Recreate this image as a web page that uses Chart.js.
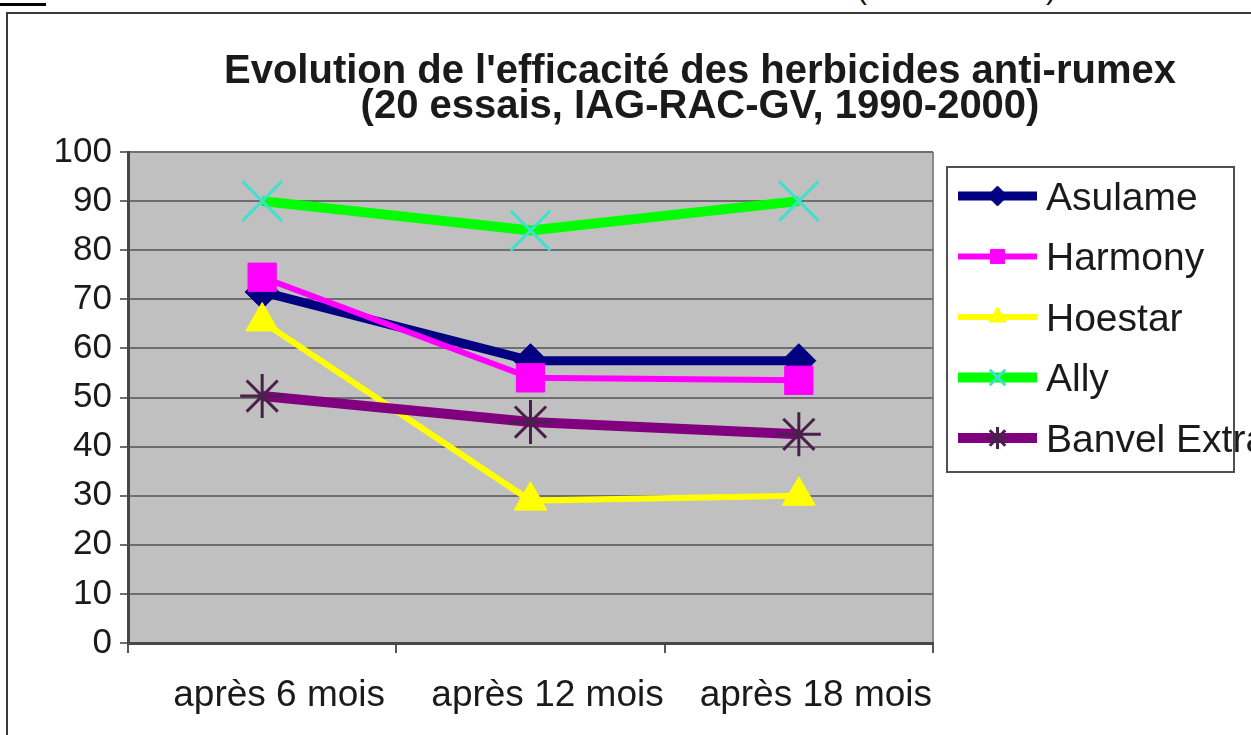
<!DOCTYPE html>
<html lang="fr">
<head>
<meta charset="utf-8">
<title>Evolution de l'efficacité des herbicides anti-rumex</title>
<script src="https://cdn.jsdelivr.net/npm/chart.js@4.4.1/dist/chart.umd.min.js"></script>
<style>
  html, body { margin: 0; padding: 0; background: #fff; overflow: hidden; }
  #bar { position: absolute; left: 0; top: 3px; width: 46px; height: 3px; background: #000; }
  #frame { position: absolute; left: 6px; top: 12px; width: 1400px; height: 800px;
           border-left: 2px solid #3a3a3a; border-top: 2px solid #3a3a3a; }
  .cut { position: absolute; top: -26px; font: 30px/30px "Liberation Sans", Arial, sans-serif; color: #111; }
  #wrap { position: absolute; left: 0; top: 0; width: 1380px; height: 735px; }
</style>
</head>
<body>
<div id="bar"></div>
<div id="frame"></div>
<span class="cut" style="left:857px">(</span>
<span class="cut" style="left:1046px">)</span>
<div id="wrap"><canvas id="chart"></canvas></div>
<script>
// ═══ DATA ═══
const categories = ['après 6 mois', 'après 12 mois', 'après 18 mois'];
const asulame = [71.5, 57.5, 57.5];
const harmony = [74.5, 54, 53.5];
const hoestar = [65.5, 29, 30];
const ally    = [90, 84, 90];
const banvel  = [50.3, 45, 42.5];
const seriesNames = ['Asulame', 'Harmony', 'Hoestar', 'Ally', 'Banvel Extra'];
const yTicks = [0, 10, 20, 30, 40, 50, 60, 70, 80, 90, 100];
const titleLines = ["Evolution de l'efficacité des herbicides anti-rumex", '(20 essais, IAG-RAC-GV, 1990-2000)'];

// ═══ STYLES ═══
const FONT = '"Liberation Sans", Arial, sans-serif';
const lineColors  = ['#000080', '#ff00ff', '#ffff00', '#00ff00', '#800080'];
const markerFill  = ['#000080', '#ff00ff', '#ffff00', '#40e0d0', '#4b1f4b'];
const markerLine  = ['#000080', '#ff00ff', '#ffff00', '#40e0d0', '#4b1f4b'];
const lineWidths  = [9, 6, 6, 10, 10];
const markers     = ['rectRot', 'rect', 'triangle', 'crossRot', 'star'];
const markerSize  = [17, 20, 19, 28, 22];
const markerEdge  = [1, 1, 1, 3, 3];
const legendSize  = [10, 10, 10, 11, 11];

const values = [asulame, harmony, hoestar, ally, banvel];

// ═══ PLUGINS ═══
const plotBg = {
  id: 'plotBg',
  beforeDraw(chart) {
    const { ctx, chartArea: a } = chart;
    ctx.save();
    ctx.fillStyle = '#c0c0c0';
    ctx.fillRect(a.left, a.top, a.right - a.left, a.bottom - a.top);
    ctx.strokeStyle = '#8a8a8a';
    ctx.lineWidth = 2;
    ctx.beginPath();
    ctx.moveTo(a.right, a.top);
    ctx.lineTo(a.right, a.bottom);
    ctx.stroke();
    ctx.restore();
  }
};

function drawLegend(chart, box) {
  const ctx = chart.ctx;
  const left = box.left + 14;
  const top = chart.chartArea.top + 15;
  ctx.save();
  ctx.strokeStyle = '#505050';
  ctx.lineWidth = 2;
  ctx.strokeRect(left, top, 287, 305);
  ctx.font = '39px ' + FONT;
  ctx.textBaseline = 'middle';
  ctx.textAlign = 'left';
  chart.data.datasets.forEach((ds, i) => {
    const y = top + 29 + i * 60.5;
    const x0 = left + 11, x1 = left + 90;
    ctx.strokeStyle = ds.borderColor;
    ctx.lineWidth = ds.borderWidth;
    ctx.beginPath();
    ctx.moveTo(x0, y);
    ctx.lineTo(x1, y);
    ctx.stroke();
    ctx.fillStyle = ds.pointBackgroundColor;
    ctx.strokeStyle = ds.pointBorderColor;
    ctx.lineWidth = ds.pointBorderWidth;
    Chart.helpers.drawPoint(ctx, { pointStyle: ds.pointStyle, radius: legendSize[i], rotation: 0, borderWidth: ds.pointBorderWidth }, (x0 + x1) / 2, y);
    ctx.fillStyle = '#1a1a1a';
    ctx.fillText(ds.label, left + 99, y + 3);
  });
  ctx.restore();
}

// right-hand layout box: keeps room for the legend so the title centres over the whole frame
const sideLegend = {
  id: 'sideLegend',
  start(chart) {
    const box = {
      position: 'right', weight: 0, fullSize: false, options: {},
      width: 0, height: 0, left: 0, top: 0, right: 0, bottom: 0,
      isHorizontal() { return false; },
      update(maxW, maxH) { this.width = 447; this.height = maxH; },
      draw() { drawLegend(chart, this); }
    };
    Chart.layouts.addBox(chart, box);
  }
};

// ═══ CHART ═══
new Chart(document.getElementById('chart'), {
  type: 'line',
  data: {
    labels: categories,
    datasets: values.map((v, i) => ({
      label: seriesNames[i],
      data: v,
      borderColor: lineColors[i],
      backgroundColor: lineColors[i],
      borderWidth: lineWidths[i],
      pointStyle: markers[i],
      pointRadius: markerSize[i],
      pointBackgroundColor: markerFill[i],
      pointBorderColor: markerLine[i],
      pointBorderWidth: markerEdge[i],
      tension: 0,
      fill: false,
      order: values.length - i
    }))
  },
  options: {
    responsive: true,
    maintainAspectRatio: false,
    animation: false,
    events: [],
    layout: { padding: { left: 20, right: 0, top: 0, bottom: 0 } },
    plugins: {
      legend: { display: false },
      tooltip: { enabled: false },
      title: {
        display: true,
        text: titleLines,
        color: '#1a1a1a',
        font: { family: FONT, size: 40, weight: 'bold', lineHeight: 0.875 },
        padding: { top: 54, bottom: 28 }
      }
    },
    scales: {
      x: {
        offset: true,
        grid: { offset: true, drawOnChartArea: false, drawTicks: true, tickLength: 10, color: '#555', lineWidth: 2 },
        border: { color: '#474747', width: 3 },
        ticks: { font: { family: FONT, size: 37 }, color: '#1a1a1a', padding: 21, labelOffset: 17, maxRotation: 0, autoSkip: false },
        afterFit(s) { s.height = 92; }
      },
      y: {
        min: yTicks[0],
        max: yTicks[yTicks.length - 1],
        afterBuildTicks(s) { s.ticks = yTicks.map(v => ({ value: v })); },
        grid: { color: '#6e6e6e', lineWidth: 2, tickLength: 8 },
        border: { color: '#474747', width: 3 },
        ticks: { font: { family: FONT, size: 35 }, color: '#1a1a1a', padding: 8 },
        afterFit(s) { s.width = 108; }
      }
    }
  },
  plugins: [plotBg, sideLegend]
});
</script>
</body>
</html>
